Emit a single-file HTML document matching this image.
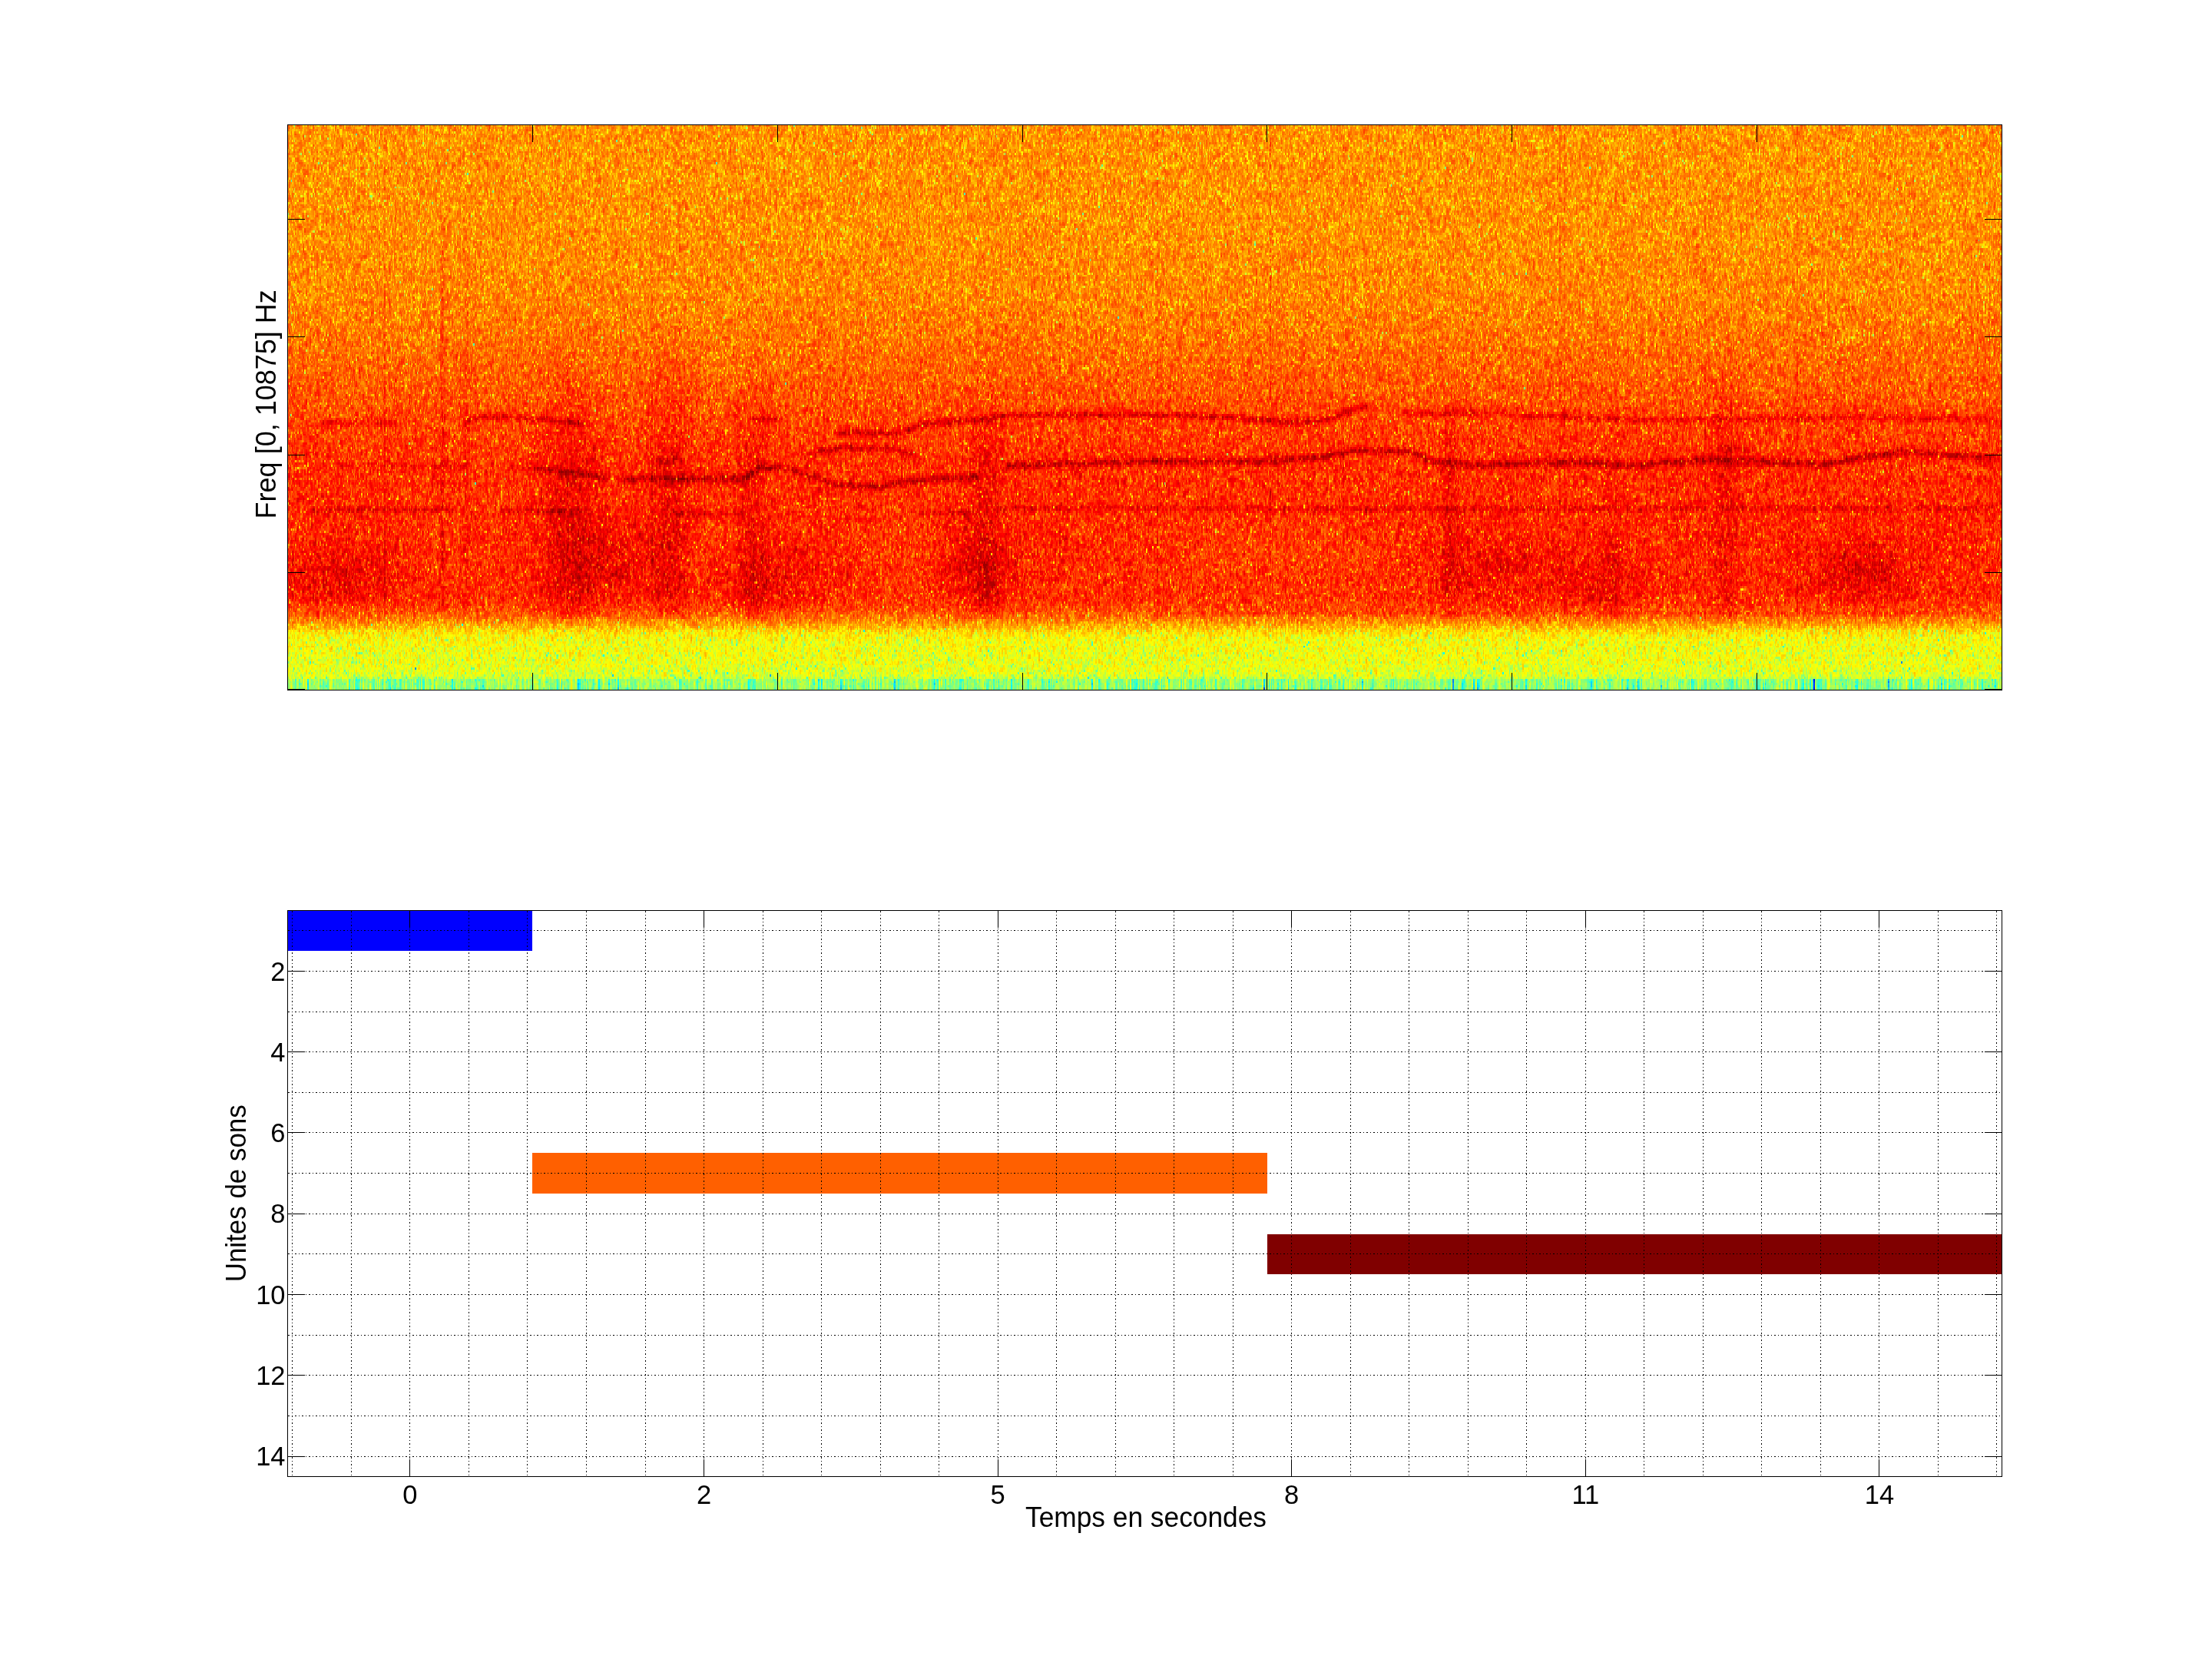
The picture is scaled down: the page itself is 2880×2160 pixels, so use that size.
<!DOCTYPE html>
<html><head><meta charset="utf-8">
<style>
html,body{margin:0;padding:0;background:#fff;}
body{width:2880px;height:2160px;position:relative;overflow:hidden;font-family:"Liberation Sans",sans-serif;}
#spec{position:absolute;left:374px;top:162px;width:2232px;height:736px;
background:linear-gradient(to bottom,rgb(253,149,0) 4px,rgb(253,146,0) 16px,rgb(254,150,0) 28px,rgb(253,148,1) 40px,rgb(253,148,1) 52px,rgb(254,148,0) 64px,rgb(253,148,1) 76px,rgb(254,146,0) 88px,rgb(254,146,0) 100px,rgb(254,146,0) 112px,rgb(253,145,0) 124px,rgb(254,145,0) 136px,rgb(254,145,0) 148px,rgb(254,143,0) 160px,rgb(254,140,0) 172px,rgb(254,141,0) 184px,rgb(254,139,0) 196px,rgb(254,138,0) 208px,rgb(254,138,0) 220px,rgb(254,133,0) 232px,rgb(254,127,0) 244px,rgb(254,126,0) 256px,rgb(254,119,0) 268px,rgb(254,117,0) 280px,rgb(254,110,0) 292px,rgb(254,104,0) 304px,rgb(254,101,0) 316px,rgb(254,94,0) 328px,rgb(254,88,0) 340px,rgb(254,84,0) 352px,rgb(254,76,0) 364px,rgb(251,55,0) 376px,rgb(250,50,0) 388px,rgb(253,59,0) 400px,rgb(254,55,0) 412px,rgb(250,46,0) 424px,rgb(241,32,0) 436px,rgb(247,38,0) 448px,rgb(245,39,0) 460px,rgb(251,42,0) 472px,rgb(252,44,0) 484px,rgb(248,34,0) 496px,rgb(249,37,0) 508px,rgb(251,40,0) 520px,rgb(251,41,0) 532px,rgb(249,37,0) 544px,rgb(248,37,0) 556px,rgb(247,34,0) 568px,rgb(246,33,0) 580px,rgb(246,32,0) 592px,rgb(247,35,0) 604px,rgb(249,39,0) 616px,rgb(254,57,0) 628px,rgb(254,94,0) 640px,rgb(253,168,1) 652px,rgb(243,228,11) 664px,rgb(233,243,20) 676px,rgb(229,245,24) 688px,rgb(226,247,27) 700px,rgb(218,250,35) 712px,rgb(151,253,101) 724px,rgb(113,210,96) 734px);}
#ov{position:absolute;left:0;top:0;}
</style></head><body>
<canvas id="spec" width="2232" height="736"></canvas>
<svg id="ov" width="2880" height="2160" viewBox="0 0 2880 2160">
<rect x="374" y="1185" width="319" height="53" fill="#0000ff"/><rect x="693" y="1501" width="957" height="53" fill="#ff6000"/><rect x="1650" y="1607" width="956" height="52" fill="#800000"/><g stroke="#000" stroke-width="1" stroke-dasharray="2 3 1 3" fill="none"><line x1="380.5" y1="1186" x2="380.5" y2="1922" /><line x1="457.5" y1="1186" x2="457.5" y2="1922" /><line x1="533.5" y1="1186" x2="533.5" y2="1922" /><line x1="610.5" y1="1186" x2="610.5" y2="1922" /><line x1="686.5" y1="1186" x2="686.5" y2="1922" /><line x1="763.5" y1="1186" x2="763.5" y2="1922" /><line x1="840.5" y1="1186" x2="840.5" y2="1922" /><line x1="916.5" y1="1186" x2="916.5" y2="1922" /><line x1="993.5" y1="1186" x2="993.5" y2="1922" /><line x1="1069.5" y1="1186" x2="1069.5" y2="1922" /><line x1="1146.5" y1="1186" x2="1146.5" y2="1922" /><line x1="1222.5" y1="1186" x2="1222.5" y2="1922" /><line x1="1299.5" y1="1186" x2="1299.5" y2="1922" /><line x1="1375.5" y1="1186" x2="1375.5" y2="1922" /><line x1="1452.5" y1="1186" x2="1452.5" y2="1922" /><line x1="1528.5" y1="1186" x2="1528.5" y2="1922" /><line x1="1605.5" y1="1186" x2="1605.5" y2="1922" /><line x1="1681.5" y1="1186" x2="1681.5" y2="1922" /><line x1="1758.5" y1="1186" x2="1758.5" y2="1922" /><line x1="1834.5" y1="1186" x2="1834.5" y2="1922" /><line x1="1911.5" y1="1186" x2="1911.5" y2="1922" /><line x1="1987.5" y1="1186" x2="1987.5" y2="1922" /><line x1="2064.5" y1="1186" x2="2064.5" y2="1922" /><line x1="2140.5" y1="1186" x2="2140.5" y2="1922" /><line x1="2217.5" y1="1186" x2="2217.5" y2="1922" /><line x1="2293.5" y1="1186" x2="2293.5" y2="1922" /><line x1="2370.5" y1="1186" x2="2370.5" y2="1922" /><line x1="2446.5" y1="1186" x2="2446.5" y2="1922" /><line x1="2523.5" y1="1186" x2="2523.5" y2="1922" /><line x1="2599.5" y1="1186" x2="2599.5" y2="1922" /><line x1="375" y1="1211.5" x2="2606" y2="1211.5" /><line x1="375" y1="1264.5" x2="2606" y2="1264.5" /><line x1="375" y1="1317.5" x2="2606" y2="1317.5" /><line x1="375" y1="1369.5" x2="2606" y2="1369.5" /><line x1="375" y1="1422.5" x2="2606" y2="1422.5" /><line x1="375" y1="1474.5" x2="2606" y2="1474.5" /><line x1="375" y1="1527.5" x2="2606" y2="1527.5" /><line x1="375" y1="1580.5" x2="2606" y2="1580.5" /><line x1="375" y1="1632.5" x2="2606" y2="1632.5" /><line x1="375" y1="1685.5" x2="2606" y2="1685.5" /><line x1="375" y1="1738.5" x2="2606" y2="1738.5" /><line x1="375" y1="1790.5" x2="2606" y2="1790.5" /><line x1="375" y1="1843.5" x2="2606" y2="1843.5" /><line x1="375" y1="1896.5" x2="2606" y2="1896.5" /></g><rect x="374" y="162" width="2233" height="1" fill="#000"/><rect x="374" y="898" width="2233" height="1" fill="#000"/><rect x="374" y="162" width="1" height="737" fill="#000"/><rect x="2606" y="162" width="1" height="737" fill="#000"/><rect x="374" y="1185" width="2233" height="1" fill="#000"/><rect x="374" y="1922" width="2233" height="1" fill="#000"/><rect x="374" y="1185" width="1" height="738" fill="#000"/><rect x="2606" y="1185" width="1" height="738" fill="#000"/><rect x="693" y="162" width="1" height="23" fill="#000"/><rect x="693" y="876" width="1" height="23" fill="#000"/><rect x="1012" y="162" width="1" height="23" fill="#000"/><rect x="1012" y="876" width="1" height="23" fill="#000"/><rect x="1331" y="162" width="1" height="23" fill="#000"/><rect x="1331" y="876" width="1" height="23" fill="#000"/><rect x="1649" y="162" width="1" height="23" fill="#000"/><rect x="1649" y="876" width="1" height="23" fill="#000"/><rect x="1968" y="162" width="1" height="23" fill="#000"/><rect x="1968" y="876" width="1" height="23" fill="#000"/><rect x="2287" y="162" width="1" height="23" fill="#000"/><rect x="2287" y="876" width="1" height="23" fill="#000"/><rect x="374" y="285" width="23" height="1" fill="#000"/><rect x="2584" y="285" width="23" height="1" fill="#000"/><rect x="374" y="438" width="23" height="1" fill="#000"/><rect x="2584" y="438" width="23" height="1" fill="#000"/><rect x="374" y="592" width="23" height="1" fill="#000"/><rect x="2584" y="592" width="23" height="1" fill="#000"/><rect x="374" y="745" width="23" height="1" fill="#000"/><rect x="2584" y="745" width="23" height="1" fill="#000"/><rect x="374" y="897" width="23" height="1" fill="#000"/><rect x="2584" y="897" width="23" height="1" fill="#000"/><rect x="533" y="1185" width="1" height="23" fill="#000"/><rect x="533" y="1900" width="1" height="23" fill="#000"/><rect x="916" y="1185" width="1" height="23" fill="#000"/><rect x="916" y="1900" width="1" height="23" fill="#000"/><rect x="1299" y="1185" width="1" height="23" fill="#000"/><rect x="1299" y="1900" width="1" height="23" fill="#000"/><rect x="1681" y="1185" width="1" height="23" fill="#000"/><rect x="1681" y="1900" width="1" height="23" fill="#000"/><rect x="2064" y="1185" width="1" height="23" fill="#000"/><rect x="2064" y="1900" width="1" height="23" fill="#000"/><rect x="2446" y="1185" width="1" height="23" fill="#000"/><rect x="2446" y="1900" width="1" height="23" fill="#000"/><rect x="374" y="1264" width="23" height="1" fill="#000"/><rect x="2584" y="1264" width="23" height="1" fill="#000"/><rect x="374" y="1369" width="23" height="1" fill="#000"/><rect x="2584" y="1369" width="23" height="1" fill="#000"/><rect x="374" y="1474" width="23" height="1" fill="#000"/><rect x="2584" y="1474" width="23" height="1" fill="#000"/><rect x="374" y="1580" width="23" height="1" fill="#000"/><rect x="2584" y="1580" width="23" height="1" fill="#000"/><rect x="374" y="1685" width="23" height="1" fill="#000"/><rect x="2584" y="1685" width="23" height="1" fill="#000"/><rect x="374" y="1790" width="23" height="1" fill="#000"/><rect x="2584" y="1790" width="23" height="1" fill="#000"/><rect x="374" y="1896" width="23" height="1" fill="#000"/><rect x="2584" y="1896" width="23" height="1" fill="#000"/><g font-family="Liberation Sans, sans-serif" font-size="36" fill="#000"><text x="371.5" y="1276.5" text-anchor="end" font-size="34.5">2</text><text x="371.5" y="1381.8" text-anchor="end" font-size="34.5">4</text><text x="371.5" y="1487.1" text-anchor="end" font-size="34.5">6</text><text x="371.5" y="1592.4" text-anchor="end" font-size="34.5">8</text><text x="371.5" y="1697.7" text-anchor="end" font-size="34.5">10</text><text x="371.5" y="1802.9" text-anchor="end" font-size="34.5">12</text><text x="371.5" y="1908.2" text-anchor="end" font-size="34.5">14</text><text x="533.9" y="1957.6" text-anchor="middle" font-size="34.5">0</text><text x="916.5" y="1957.6" text-anchor="middle" font-size="34.5">2</text><text x="1299.1" y="1957.6" text-anchor="middle" font-size="34.5">5</text><text x="1681.7" y="1957.6" text-anchor="middle" font-size="34.5">8</text><text x="2064.3" y="1957.6" text-anchor="middle" font-size="34.5">11</text><text x="2446.9" y="1957.6" text-anchor="middle" font-size="34.5">14</text><text x="1492" y="1988" text-anchor="middle" textLength="314" lengthAdjust="spacingAndGlyphs">Temps en secondes</text><text transform="translate(320.3,1553.8) rotate(-90)" x="0" y="0" text-anchor="middle" textLength="231" lengthAdjust="spacingAndGlyphs">Unites de sons</text><text transform="translate(359.2,526.3) rotate(-90)" x="0" y="0" text-anchor="middle">Freq [0, 10875] Hz</text></g>
</svg>
<script>
(function(){
var cv=document.getElementById('spec');
var ctx=cv.getContext('2d');
var CW=2232,CH=736,X0=374,Y0=162;
var img=ctx.createImageData(CW,CH);
var d=img.data;
var s=123456789;
function rnd(){s^=s<<13;s^=s>>>17;s^=s<<5;return ((s>>>0)%1000000)/1000000+0.0000005;}
function gauss(){return Math.sqrt(-2*Math.log(rnd()))*Math.cos(6.2831853*rnd());}
function interp(k,x){
  if(x<=k[0][0])return k[0][1];
  for(var j=1;j<k.length;j++){if(x<=k[j][0]){var t=(x-k[j-1][0])/(k[j][0]-k[j-1][0]);return k[j-1][1]+t*(k[j][1]-k[j-1][1]);}}
  return k[k.length-1][1];
}
var base=[[162, 0.745], [300, 0.749], [380, 0.758], [440, 0.777], [490, 0.797], [540, 0.822], [600, 0.845], [700, 0.853], [775, 0.85], [785, 0.84], [795, 0.815], [803, 0.785], [810, 0.75], [817, 0.705], [824, 0.665], [832, 0.637], [870, 0.62], [878, 0.61], [882, 0.59], [885, 0.53], [898, 0.52]];
var lines=[{"p": [[404, 550.5], [520, 550.5]], "a": 0.064, "w": 4.7250000000000005}, {"p": [[600, 551], [626, 543], [656, 541.4], [727, 548], [767, 553]], "a": 0.08800000000000001, "w": 4.7250000000000005}, {"p": [[969, 547], [995, 544], [1025, 547]], "a": 0.072, "w": 4.7250000000000005}, {"p": [[1080, 563], [1171, 564], [1201, 551.5], [1282, 546.5], [1297, 541.4], [1490, 539.4], [1591, 543], [1692, 550.5], [1732, 545.5], [1772, 530], [1793, 528]], "a": 0.096, "w": 5.13}, {"p": [[1818, 538], [1944, 538], [1994, 541.4], [2146, 546.5], [2247, 546.5], [2398, 543], [2606, 546.5]], "a": 0.064, "w": 5.13}, {"p": [[424, 606], [616, 606]], "a": 0.032, "w": 4.7250000000000005}, {"p": [[677, 608.5], [727, 613.6], [767, 618.6], [797, 623.6]], "a": 0.08000000000000002, "w": 5.13}, {"p": [[797, 623.6], [969, 623.6], [989, 608.5], [1025, 608.5], [1050, 618.6], [1090, 631], [1146, 633.7], [1181, 626], [1272, 621], [1282, 616]], "a": 0.08800000000000001, "w": 5.13}, {"p": [[843, 600], [894, 600]], "a": 0.05600000000000001, "w": 4.7250000000000005}, {"p": [[1045, 596], [1065, 588], [1095, 583], [1161, 583], [1201, 596]], "a": 0.08000000000000002, "w": 4.7250000000000005}, {"p": [[1302, 606], [1490, 601], [1641, 601], [1717, 596], [1767, 586], [1833, 588], [1868, 601], [1919, 606], [2045, 601], [2121, 606], [2222, 598.4], [2272, 600], [2373, 605], [2423, 596], [2474, 588.3], [2549, 593.4], [2606, 597]], "a": 0.096, "w": 5.13}, {"p": [[2222, 583], [2297, 586]], "a": 0.04000000000000001, "w": 4.7250000000000005}, {"p": [[394, 664], [596, 664]], "a": 0.05600000000000001, "w": 4.050000000000001}, {"p": [[646, 665.5], [767, 665.5]], "a": 0.05600000000000001, "w": 4.050000000000001}, {"p": [[868, 669], [979, 669]], "a": 0.05600000000000001, "w": 4.050000000000001}, {"p": [[1181, 668], [1272, 668]], "a": 0.05600000000000001, "w": 4.050000000000001}, {"p": [[1287, 661.5], [1490, 661.5], [1722, 663], [2606, 661.5]], "a": 0.048, "w": 4.050000000000001}, {"p": [[1490, 799], [2606, 799]], "a": 0.028000000000000004, "w": 3.375}];
var blobs=[[445, 751, 80, 40, 0.05], [793, 731, 60, 50, 0.05], [1005, 756, 70, 40, 0.045], [1272, 741, 60, 45, 0.045], [1940, 740, 80, 45, 0.04], [2085, 760, 60, 40, 0.04], [2423, 746, 70, 40, 0.06], [575, 700, 50, 60, -0.015], [940, 720, 40, 60, -0.015], [1180, 720, 50, 60, -0.02], [1650, 720, 150, 60, -0.02]];
var plumes=[[576, 3, 263, 0.04, 80], [606, 3, 280, 0.025, 40], [742, 35, 414, 0.045, 180], [873, 25, 414, 0.04, 180], [980, 20, 450, 0.035, 150], [1282, 20, 444, 0.045, 160], [1888, 10, 462, 0.035, 120], [2100, 12, 462, 0.02, 150], [2245, 15, 440, 0.035, 150]];
var LN=lines.length;
var nB=256, bh=CH/nB;
var cols=[];var u=0;
while(u<CW){var rr=rnd();var wdt=(rr<0.4)?1:2;cols.push([u,Math.min(CW,u+wdt)]);u+=wdt;}
var S=0.033, A=0.35, A2=Math.sqrt(1-A*A);
var Mr=new Float32Array(nB+2),Mi=new Float32Array(nB+2),Nr=new Float32Array(nB+2),Ni=new Float32Array(nB+2);
for(var b=0;b<nB+2;b++){Mr[b]=gauss();Mi[b]=gauss();Nr[b]=gauss();Ni[b]=gauss();}
var muRow=new Float32Array(nB);
for(var b=0;b<nB;b++)muRow[b]=interp(base,Y0+(b+0.5)*bh);
for(var c=0;c<cols.length;c++){
  var ua=cols[c][0],ub=cols[c][1];
  var px=X0+ua+0.5;
  for(var b=0;b<nB+2;b++){Mr[b]=A*Mr[b]+A2*gauss();Mi[b]=A*Mi[b]+A2*gauss();Nr[b]=A*Nr[b]+A2*gauss();Ni[b]=A*Ni[b]+A2*gauss();}
  var ly=[];
  for(var li=0;li<LN;li++){
    var p=lines[li].p;
    if(px<p[0][0]||px>p[p.length-1][0]){ly.push(null);continue;}
    var fade=Math.min(1,(px-p[0][0])/15,(p[p.length-1][0]-px)/15);
    ly.push([interp(p,px),fade]);
  }
  var streak=(rnd()<0.03)?0.03*rnd():0;
  var colz=Math.log(-Math.log(rnd()));
  for(var b=0;b<nB;b++){
    var wa=Math.round(b*bh),wb=Math.round((b+1)*bh);
    var py=Y0+(b+0.5)*bh;
    var mu=muRow[b];
    for(var k=0;k<blobs.length;k++){var B=blobs[k];var dx=(px-B[0])/B[2],dy=(py-B[1])/B[3];var e=dx*dx+dy*dy;if(e<9)mu+=B[4]*Math.exp(-e);}
    if(py<805){for(var k=0;k<plumes.length;k++){var P=plumes[k];var dx=(px-P[0])/P[1];if(dx*dx<9&&py>P[2]){var t=Math.min(1,(py-P[2])/P[4]);mu+=P[3]*t*Math.exp(-dx*dx);}}}
    for(var li=0;li<LN;li++){if(ly[li]===null)continue;var dy=(py-ly[li][0])/lines[li].w;if(dy*dy<9)mu+=ly[li][1]*lines[li].a*Math.exp(-dy*dy);}
    if(py<805) mu+=streak;
    if(py>884){mu+=0.04*(colz+0.577);}
    var xr=0.5*Mr[b+1]-0.25*(Mr[b]+Mr[b+2]);
    var xi=0.5*Mi[b+1]-0.25*(Mi[b]+Mi[b+2]);
    var yr=0.5*Nr[b+1]-0.25*(Nr[b]+Nr[b+2]);
    var yi=0.5*Ni[b+1]-0.25*(Ni[b]+Ni[b+2]);
    var P2=(xr*xr+xi*xi)/(2*0.375)+1e-6;
    var z=Math.log(P2);
    var v=mu+((py>884)?0.6*S:S)*z;
    if(v<0)v=0;if(v>1)v=1;
    var r=Math.min(Math.max(Math.min(4*v-1.5,-4*v+4.5),0),1)*255|0;
    var g=Math.min(Math.max(Math.min(4*v-0.5,-4*v+3.5),0),1)*255|0;
    var bl=Math.min(Math.max(Math.min(4*v+0.5,-4*v+2.5),0),1)*255|0;
    for(var w=wa;w<wb&&w<CH;w++){
      var o=(w*CW+ua)*4;
      for(var x=ua;x<ub;x++){d[o]=r;d[o+1]=g;d[o+2]=bl;d[o+3]=255;o+=4;}
    }
  }
}
ctx.putImageData(img,0,0);
})();

</script>
</body></html>
